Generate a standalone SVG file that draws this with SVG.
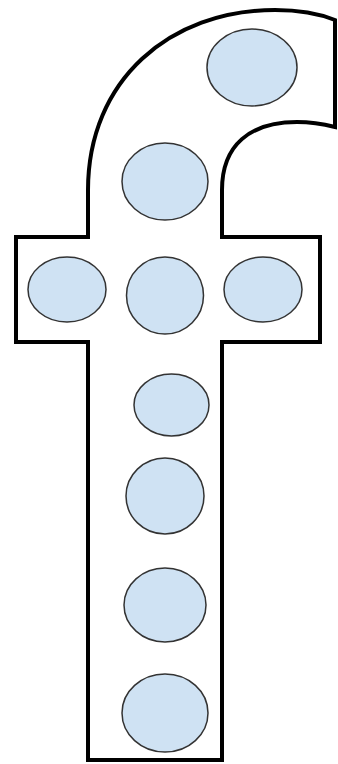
<svg xmlns="http://www.w3.org/2000/svg" width="338" height="764" viewBox="0 0 338 764">
<style>
.shape{fill:#ffffff;stroke:#000000;stroke-width:4;stroke-linejoin:miter}
.dot{fill:#cfe2f3;stroke:#333333;stroke-width:1.5}
</style>
<rect width="338" height="764" fill="#ffffff"/>
<path class="shape" d="M88,237 L88,190 C88,80 170,10 275,10 Q310,10 335,20 L335,127 Q315,122 297,122 C250,122 222,145 222,190 L222,237 L320,237 L320,342 L222,342 L222,760 L88,760 L88,342 L16,342 L16,237 Z"/>
<g id="dots">
<ellipse class="dot" cx="252" cy="67.5" rx="45" ry="38.5"/>
<ellipse class="dot" cx="165" cy="181.5" rx="43" ry="38.5"/>
<ellipse class="dot" cx="67" cy="289.5" rx="39" ry="32.5"/>
<ellipse class="dot" cx="165" cy="295.5" rx="38.5" ry="38.5"/>
<ellipse class="dot" cx="263" cy="289.5" rx="39" ry="32.5"/>
<ellipse class="dot" cx="171.5" cy="405" rx="37.5" ry="31"/>
<ellipse class="dot" cx="165" cy="496" rx="39" ry="38"/>
<ellipse class="dot" cx="165" cy="605" rx="41" ry="37"/>
<ellipse class="dot" cx="165" cy="713" rx="43" ry="39"/>
</g>
</svg>
